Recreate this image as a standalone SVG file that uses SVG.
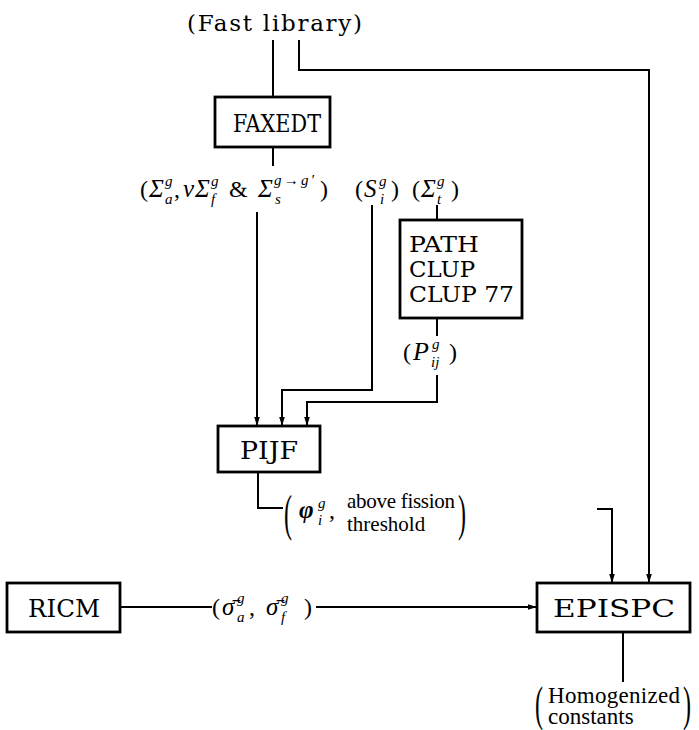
<svg xmlns="http://www.w3.org/2000/svg" width="699" height="730" viewBox="0 0 699 730">
<defs>
<marker id="ah" markerWidth="9" markerHeight="12" refX="9" refY="4" orient="auto" markerUnits="userSpaceOnUse" viewBox="0 0 9 8">
<path d="M0,1.2 L9,4 L0,6.8 z" fill="#000"/>
</marker>
<style>
.box{fill:#fff;stroke:#000;stroke-width:2.8}
.ln{fill:none;stroke:#000;stroke-width:2}
.t{font-family:"Liberation Serif","Times New Roman",serif;font-size:22px;fill:#000}
.c{font-family:"DejaVu Serif","Liberation Serif",serif;font-size:23px;fill:#000}
.m{font-family:"Liberation Serif","Times New Roman",serif;font-style:italic;font-size:25px;fill:#000}
.s{font-family:"Liberation Serif","Times New Roman",serif;font-style:italic;font-size:15px;fill:#000}
.p{font-family:"Liberation Serif","Times New Roman",serif;font-size:24px;fill:#000}
</style>
</defs>
<rect width="699" height="730" fill="#fff"/>

<g id="connectors">
<path class="ln" d="M273,40 V97"/>
<path class="ln" d="M299,40 V70 H649 V583" marker-end="url(#ah)"/>
<path class="ln" d="M273,147 V166"/>
<path class="ln" d="M257,212 V426" marker-end="url(#ah)"/>
<path class="ln" d="M372,205 V390 H282 V426" marker-end="url(#ah)"/>
<path class="ln" d="M437,205 V220"/>
<path class="ln" d="M437,318 V336"/>
<path class="ln" d="M437,375 V402 H307 V426" marker-end="url(#ah)"/>
<path class="ln" d="M258,472 V508 H283"/>
<path class="ln" d="M597,509 H612 V583" marker-end="url(#ah)"/>
<path class="ln" d="M120,607 H212"/>
<path class="ln" d="M316,607 H537" marker-end="url(#ah)"/>
<path class="ln" d="M623,632 V682"/>
</g>

<g id="fastlib">
<text class="c" x="187" y="31" textLength="175" lengthAdjust="spacing">(Fast library)</text>
</g>

<g id="FAXEDT">
<rect class="box" x="215" y="97" width="115" height="50"/>
<text class="c" x="233" y="132" textLength="88" lengthAdjust="spacingAndGlyphs" style="font-size:24px">FAXEDT</text>
</g>

<g id="xslabel">
<text class="p" x="140" y="197">(</text>
<text class="m" x="149" y="197">Σ</text>
<text class="s" x="165" y="186">g</text>
<text class="s" x="165" y="204">a</text>
<text class="p" x="174" y="197">,</text>
<text class="m" x="183" y="197">ν</text>
<text class="m" x="195" y="197">Σ</text>
<text class="s" x="211" y="186">g</text>
<text class="s" x="211" y="204">f</text>
<text class="p" x="229" y="197">&amp;</text>
<text class="m" x="258" y="197">Σ</text>
<text class="s" x="274" y="185" textLength="40" lengthAdjust="spacing">g→g′</text>
<text class="s" x="275" y="204">s</text>
<text class="p" x="320" y="197">)</text>
</g>

<g id="slabel">
<text class="p" x="355" y="197">(</text>
<text class="m" x="364" y="197">S</text>
<text class="s" x="379" y="186">g</text>
<text class="s" x="380" y="204">i</text>
<text class="p" x="391" y="197">)</text>
</g>

<g id="sigtlabel">
<text class="p" x="412" y="197">(</text>
<text class="m" x="421" y="197">Σ</text>
<text class="s" x="437" y="186">g</text>
<text class="s" x="437" y="204">t</text>
<text class="p" x="451" y="197">)</text>
</g>

<g id="PATH">
<rect class="box" x="400" y="220" width="122" height="98"/>
<text class="c" x="409" y="252" style="font-size:21.5px" textLength="70" lengthAdjust="spacingAndGlyphs">PATH</text>
<text class="c" x="409" y="277" style="font-size:21.5px" textLength="66" lengthAdjust="spacingAndGlyphs">CLUP</text>
<text class="c" x="409" y="302" style="font-size:21.5px" textLength="105" lengthAdjust="spacingAndGlyphs">CLUP 77</text>
</g>

<g id="plabel">
<text class="p" x="403" y="360">(</text>
<text class="m" x="413" y="360" style="font-size:26px">P</text>
<text class="s" x="432" y="349">g</text>
<text class="s" x="431" y="367">ij</text>
<text class="p" x="449" y="360">)</text>
</g>

<g id="PIJF">
<rect class="box" x="218" y="426" width="102" height="46"/>
<text class="c" x="240" y="459" textLength="58" lengthAdjust="spacingAndGlyphs" style="font-size:24px">PIJF</text>
</g>

<g id="philabel">
<text class="p" transform="translate(284,530) scale(1,2.1)">(</text>
<text class="m" x="299" y="518" font-weight="bold">φ</text>
<text class="s" x="318" y="508">g</text>
<text class="s" x="318" y="525">i</text>
<text class="p" x="329" y="518">,</text>
<text class="t" x="347" y="508" style="font-size:21px" textLength="108" lengthAdjust="spacing">above fission</text>
<text class="t" x="347" y="531" style="font-size:21px">threshold</text>
<text class="p" transform="translate(458,530) scale(1,2.1)">)</text>
</g>

<g id="RICM">
<rect class="box" x="7" y="583" width="113" height="49"/>
<text class="c" x="28" y="617" textLength="72" lengthAdjust="spacingAndGlyphs" style="font-size:25px">RICM</text>
</g>

<g id="sigmalabel">
<text class="p" x="212" y="615">(</text>
<text class="m" x="222" y="615">σ̄</text>
<text class="s" x="237" y="603">g</text>
<text class="s" x="237" y="622">a</text>
<text class="p" x="249" y="615">,</text>
<text class="m" x="266" y="615">σ̄</text>
<text class="s" x="281" y="603">g</text>
<text class="s" x="281" y="622">f</text>
<text class="p" x="304" y="615">)</text>
</g>

<g id="EPISPC">
<rect class="box" x="537" y="583" width="153" height="49"/>
<text class="c" x="553" y="617" textLength="122" lengthAdjust="spacingAndGlyphs" style="font-size:25px">EPISPC</text>
</g>

<g id="outlabel">
<text class="p" transform="translate(535,720) scale(1,2)">(</text>
<text class="t" x="548" y="703" style="font-size:23px" textLength="132" lengthAdjust="spacing">Homogenized</text>
<text class="t" x="548" y="724" style="font-size:23px">constants</text>
<text class="p" transform="translate(683,720) scale(1,2)">)</text>
</g>
</svg>
